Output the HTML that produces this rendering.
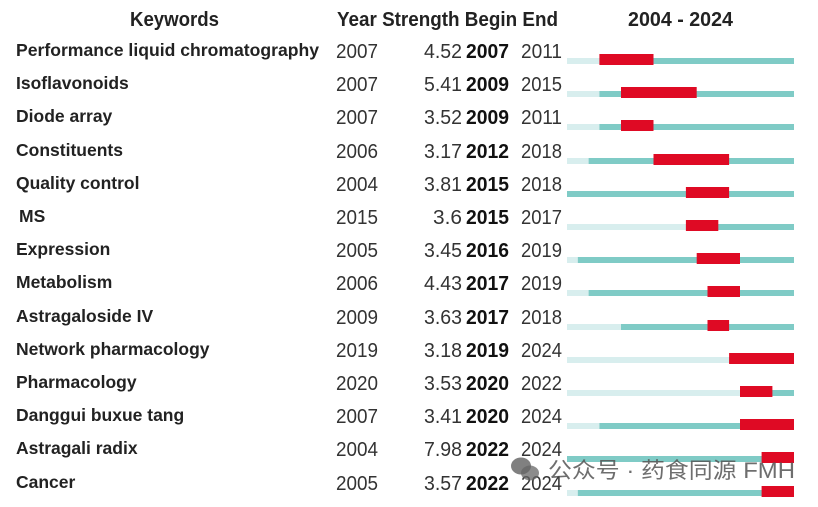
<!DOCTYPE html>
<html><head><meta charset="utf-8"><style>
html,body{margin:0;padding:0;background:#fff;}
svg{display:block;}
.k{font-family:"Liberation Sans",sans-serif;font-weight:bold;font-size:17.5px;fill:#222;}
.n{font-family:"Liberation Sans",sans-serif;font-size:20px;fill:#333;}
.b{font-family:"Liberation Sans",sans-serif;font-size:20px;font-weight:bold;fill:#111;}
.h{font-family:"Liberation Sans",sans-serif;font-size:20px;font-weight:bold;fill:#222;}
.l{fill:#d8eeee}.t{fill:#7fcbc6}.r{fill:#df0a24}
</style></head><body>
<svg width="818" height="507" viewBox="0 0 818 507" xmlns="http://www.w3.org/2000/svg">
<text class="h" x="130" y="26" textLength="89" lengthAdjust="spacingAndGlyphs">Keywords</text>
<text class="h" x="337" y="26" textLength="221" lengthAdjust="spacingAndGlyphs">Year Strength Begin End</text>
<text class="h" x="628" y="26" textLength="105" lengthAdjust="spacingAndGlyphs">2004 - 2024</text>

<g>
<text class="k" x="16" y="56" textLength="303" lengthAdjust="spacingAndGlyphs">Performance liquid chromatography</text>
<text class="k" x="16" y="89">Isoflavonoids</text>
<text class="k" x="16" y="122">Diode array</text>
<text class="k" x="16" y="156">Constituents</text>
<text class="k" x="16" y="189">Quality control</text>
<text class="k" x="19" y="222">MS</text>
<text class="k" x="16" y="255">Expression</text>
<text class="k" x="16" y="288">Metabolism</text>
<text class="k" x="16" y="322">Astragaloside IV</text>
<text class="k" x="16" y="355">Network pharmacology</text>
<text class="k" x="16" y="388">Pharmacology</text>
<text class="k" x="16" y="421">Danggui buxue tang</text>
<text class="k" x="16" y="454">Astragali radix</text>
<text class="k" x="16" y="488">Cancer</text>
</g>

<g>
<text class="n" x="336" y="58" textLength="42" lengthAdjust="spacingAndGlyphs">2007</text>
<text class="n" x="336" y="91" textLength="42" lengthAdjust="spacingAndGlyphs">2007</text>
<text class="n" x="336" y="124" textLength="42" lengthAdjust="spacingAndGlyphs">2007</text>
<text class="n" x="336" y="158" textLength="42" lengthAdjust="spacingAndGlyphs">2006</text>
<text class="n" x="336" y="191" textLength="42" lengthAdjust="spacingAndGlyphs">2004</text>
<text class="n" x="336" y="224" textLength="42" lengthAdjust="spacingAndGlyphs">2015</text>
<text class="n" x="336" y="257" textLength="42" lengthAdjust="spacingAndGlyphs">2005</text>
<text class="n" x="336" y="290" textLength="42" lengthAdjust="spacingAndGlyphs">2006</text>
<text class="n" x="336" y="324" textLength="42" lengthAdjust="spacingAndGlyphs">2009</text>
<text class="n" x="336" y="357" textLength="42" lengthAdjust="spacingAndGlyphs">2019</text>
<text class="n" x="336" y="390" textLength="42" lengthAdjust="spacingAndGlyphs">2020</text>
<text class="n" x="336" y="423" textLength="42" lengthAdjust="spacingAndGlyphs">2007</text>
<text class="n" x="336" y="456" textLength="42" lengthAdjust="spacingAndGlyphs">2004</text>
<text class="n" x="336" y="490" textLength="42" lengthAdjust="spacingAndGlyphs">2005</text>

<text class="n" x="424" y="58" textLength="38" lengthAdjust="spacingAndGlyphs">4.52</text>
<text class="n" x="424" y="91" textLength="38" lengthAdjust="spacingAndGlyphs">5.41</text>
<text class="n" x="424" y="124" textLength="38" lengthAdjust="spacingAndGlyphs">3.52</text>
<text class="n" x="424" y="158" textLength="38" lengthAdjust="spacingAndGlyphs">3.17</text>
<text class="n" x="424" y="191" textLength="38" lengthAdjust="spacingAndGlyphs">3.81</text>
<text class="n" x="433" y="224" textLength="29" lengthAdjust="spacingAndGlyphs">3.6</text>
<text class="n" x="424" y="257" textLength="38" lengthAdjust="spacingAndGlyphs">3.45</text>
<text class="n" x="424" y="290" textLength="38" lengthAdjust="spacingAndGlyphs">4.43</text>
<text class="n" x="424" y="324" textLength="38" lengthAdjust="spacingAndGlyphs">3.63</text>
<text class="n" x="424" y="357" textLength="38" lengthAdjust="spacingAndGlyphs">3.18</text>
<text class="n" x="424" y="390" textLength="38" lengthAdjust="spacingAndGlyphs">3.53</text>
<text class="n" x="424" y="423" textLength="38" lengthAdjust="spacingAndGlyphs">3.41</text>
<text class="n" x="424" y="456" textLength="38" lengthAdjust="spacingAndGlyphs">7.98</text>
<text class="n" x="424" y="490" textLength="38" lengthAdjust="spacingAndGlyphs">3.57</text>

<text class="b" x="466" y="58" textLength="43" lengthAdjust="spacingAndGlyphs">2007</text>
<text class="b" x="466" y="91" textLength="43" lengthAdjust="spacingAndGlyphs">2009</text>
<text class="b" x="466" y="124" textLength="43" lengthAdjust="spacingAndGlyphs">2009</text>
<text class="b" x="466" y="158" textLength="43" lengthAdjust="spacingAndGlyphs">2012</text>
<text class="b" x="466" y="191" textLength="43" lengthAdjust="spacingAndGlyphs">2015</text>
<text class="b" x="466" y="224" textLength="43" lengthAdjust="spacingAndGlyphs">2015</text>
<text class="b" x="466" y="257" textLength="43" lengthAdjust="spacingAndGlyphs">2016</text>
<text class="b" x="466" y="290" textLength="43" lengthAdjust="spacingAndGlyphs">2017</text>
<text class="b" x="466" y="324" textLength="43" lengthAdjust="spacingAndGlyphs">2017</text>
<text class="b" x="466" y="357" textLength="43" lengthAdjust="spacingAndGlyphs">2019</text>
<text class="b" x="466" y="390" textLength="43" lengthAdjust="spacingAndGlyphs">2020</text>
<text class="b" x="466" y="423" textLength="43" lengthAdjust="spacingAndGlyphs">2020</text>
<text class="b" x="466" y="456" textLength="43" lengthAdjust="spacingAndGlyphs">2022</text>
<text class="b" x="466" y="490" textLength="43" lengthAdjust="spacingAndGlyphs">2022</text>

<text class="n" x="521" y="58" textLength="41" lengthAdjust="spacingAndGlyphs">2011</text>
<text class="n" x="521" y="91" textLength="41" lengthAdjust="spacingAndGlyphs">2015</text>
<text class="n" x="521" y="124" textLength="41" lengthAdjust="spacingAndGlyphs">2011</text>
<text class="n" x="521" y="158" textLength="41" lengthAdjust="spacingAndGlyphs">2018</text>
<text class="n" x="521" y="191" textLength="41" lengthAdjust="spacingAndGlyphs">2018</text>
<text class="n" x="521" y="224" textLength="41" lengthAdjust="spacingAndGlyphs">2017</text>
<text class="n" x="521" y="257" textLength="41" lengthAdjust="spacingAndGlyphs">2019</text>
<text class="n" x="521" y="290" textLength="41" lengthAdjust="spacingAndGlyphs">2019</text>
<text class="n" x="521" y="324" textLength="41" lengthAdjust="spacingAndGlyphs">2018</text>
<text class="n" x="521" y="357" textLength="41" lengthAdjust="spacingAndGlyphs">2024</text>
<text class="n" x="521" y="390" textLength="41" lengthAdjust="spacingAndGlyphs">2022</text>
<text class="n" x="521" y="423" textLength="41" lengthAdjust="spacingAndGlyphs">2024</text>
<text class="n" x="521" y="456" textLength="41" lengthAdjust="spacingAndGlyphs">2024</text>
<text class="n" x="521" y="490" textLength="41" lengthAdjust="spacingAndGlyphs">2024</text>
</g>

<g>
<rect class="l" x="567" y="58" width="32.4" height="6"/><rect class="t" x="599.4" y="58" width="194.6" height="6"/><rect class="r" x="599.4" y="54" width="54.1" height="11"/>
<rect class="l" x="567" y="91" width="32.4" height="6"/><rect class="t" x="599.4" y="91" width="194.6" height="6"/><rect class="r" x="621" y="87" width="75.7" height="11"/>
<rect class="l" x="567" y="124" width="32.4" height="6"/><rect class="t" x="599.4" y="124" width="194.6" height="6"/><rect class="r" x="621" y="120" width="32.5" height="11"/>
<rect class="l" x="567" y="158" width="21.6" height="6"/><rect class="t" x="588.6" y="158" width="205.4" height="6"/><rect class="r" x="653.5" y="154" width="75.6" height="11"/>
<rect class="t" x="567" y="191" width="227" height="6"/><rect class="r" x="685.9" y="187" width="43.2" height="11"/>
<rect class="l" x="567" y="224" width="118.9" height="6"/><rect class="t" x="685.9" y="224" width="108.1" height="6"/><rect class="r" x="685.9" y="220" width="32.4" height="11"/>
<rect class="l" x="567" y="257" width="10.8" height="6"/><rect class="t" x="577.8" y="257" width="216.2" height="6"/><rect class="r" x="696.7" y="253" width="43.3" height="11"/>
<rect class="l" x="567" y="290" width="21.6" height="6"/><rect class="t" x="588.6" y="290" width="205.4" height="6"/><rect class="r" x="707.5" y="286" width="32.5" height="11"/>
<rect class="l" x="567" y="324" width="54" height="6"/><rect class="t" x="621" y="324" width="173" height="6"/><rect class="r" x="707.5" y="320" width="21.6" height="11"/>
<rect class="l" x="567" y="357" width="162.1" height="6"/><rect class="t" x="729.1" y="357" width="64.9" height="6"/><rect class="r" x="729.1" y="353" width="64.9" height="11"/>
<rect class="l" x="567" y="390" width="173" height="6"/><rect class="t" x="740" y="390" width="54" height="6"/><rect class="r" x="740" y="386" width="32.4" height="11"/>
<rect class="l" x="567" y="423" width="32.4" height="6"/><rect class="t" x="599.4" y="423" width="194.6" height="6"/><rect class="r" x="740" y="419" width="54" height="11"/>
<rect class="t" x="567" y="456" width="227" height="6"/><rect class="r" x="761.6" y="452" width="32.4" height="11"/>
<rect class="l" x="567" y="490" width="10.8" height="6"/><rect class="t" x="577.8" y="490" width="216.2" height="6"/><rect class="r" x="761.6" y="486" width="32.4" height="11"/>
</g>

<g transform="translate(510,456)">
<ellipse cx="11" cy="10" rx="10" ry="8.5" fill="#555" opacity="0.75"/>
<ellipse cx="20" cy="17" rx="9" ry="7.5" fill="#666" opacity="0.75"/>
</g>
<text x="548" y="478" font-family="'Liberation Sans','Noto Sans CJK SC',sans-serif" font-size="22" fill="#555" opacity="0.85" textLength="247" lengthAdjust="spacingAndGlyphs">公众号 · 药食同源 FMH</text>
</svg>
</body></html>
